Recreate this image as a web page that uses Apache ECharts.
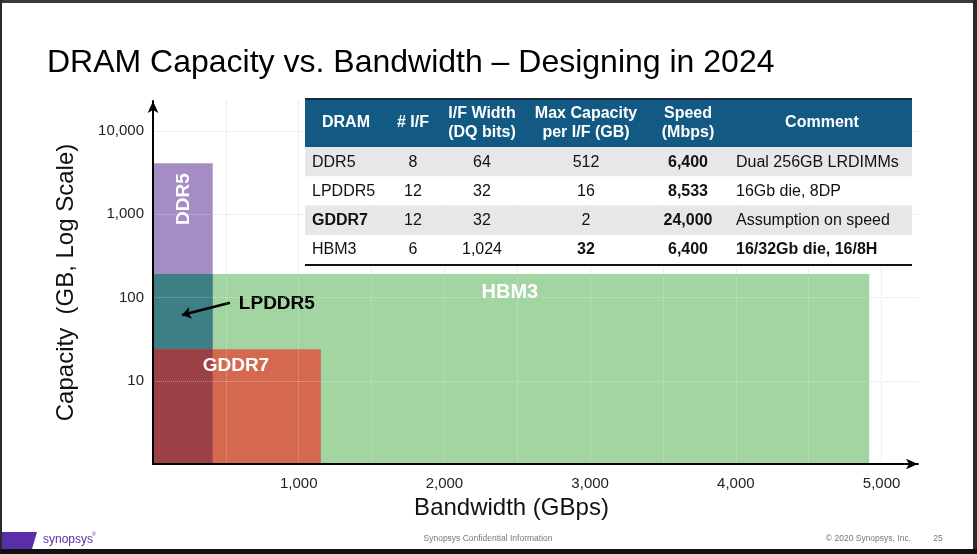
<!DOCTYPE html>
<html><head><meta charset="utf-8">
<script src="https://cdn.jsdelivr.net/npm/echarts@6/dist/echarts.min.js"></script>
<style>html,body{margin:0;padding:0;background:#fff}#c{width:977px;height:554px}</style>
</head><body><div id="c"></div>
<script>
// ---- data ----
const dramNames = ['DDR5', 'LPDDR5', 'GDDR7', 'HBM3'];
const bandwidthGBps = [409.6, 409.6, 1152, 4915.2];
const capacityGB = [4096, 192, 24, 192];
const xTickLabels = [1000, 2000, 3000, 4000, 5000];
const yTickLabels = [10, 100, 1000, 10000];

const tableHeader = ['DRAM', '# I/F', 'I/F Width\n(DQ bits)', 'Max Capacity\nper I/F (GB)', 'Speed\n(Mbps)', 'Comment'];
const numIF = ['8', '12', '12', '6'];
const ifWidthBits = ['64', '32', '32', '1,024'];
const maxCapPerIF = ['512', '16', '2', '32'];
const speedMbps = ['6,400', '8,533', '24,000', '6,400'];
const comments = ['Dual 256GB LRDIMMs', '16Gb die, 8DP', 'Assumption on speed', '16/32Gb die, 16/8H'];
// bold cells [row, col]
const boldCells = [[0,4],[1,4],[2,0],[2,4],[3,3],[3,4],[3,5]];

// annotation label anchors in data space
const labelText = ['DDR5', 'LPDDR5', 'GDDR7', 'HBM3'];
const labelX = [212, 850, 569, 2449];
const labelY = [1525, 83.5, 15, 116];
const arrowFrom = [528, 86.6];
const arrowTo = [199, 61.6];

// ---- styles ----
const FONT = '"Liberation Sans", Arial, Helvetica, sans-serif';
const colorOf = { DDR5: '#a58cc4', LPDDR5: '#3e7f86', GDDR7: '#d5694f', HBM3: '#a2d5a2' };
const overlapColor = '#9b4047';
const drawOrder = ['HBM3', 'DDR5', 'LPDDR5', 'GDDR7'];

const rectData = drawOrder.map(n => {
  const i = dramNames.indexOf(n);
  return { name: n, value: [0, bandwidthGBps[i], 1, capacityGB[i]], fill: colorOf[n] };
});
{
  const iL = dramNames.indexOf('LPDDR5'), iG = dramNames.indexOf('GDDR7');
  rectData.push({ name: 'LPDDR5 ∩ GDDR7',
    value: [0, Math.min(bandwidthGBps[iL], bandwidthGBps[iG]), 1, Math.min(capacityGB[iL], capacityGB[iG])],
    fill: overlapColor });
}

const labelStyles = [
  { rotate: 90, color: '#fff', fontSize: 19 },
  { rotate: 0, color: '#000', fontSize: 19 },
  { rotate: 0, color: '#fff', fontSize: 19 },
  { rotate: 0, color: '#fff', fontSize: 20 }
];
const labelData = labelText.map((t, i) => ({
  value: [labelX[i], labelY[i]],
  label: Object.assign({ show: true, position: 'inside', formatter: t, fontWeight: 'bold', fontFamily: FONT,
    textBorderWidth: 0, textBorderColor: 'transparent', textShadowBlur: 0 }, labelStyles[i])
}));

// ---- table graphics ----
const tbl = { left: 305, right: 912, top: 99, headBottom: 147, rowBounds: [147, 176.5, 205.5, 235, 264] };
const colCenters = [346, 413, 482, 586, 688, 822];
const colLeft = { 0: 312, 5: 736 };
const tableRows = dramNames.map((n, r) => [n, numIF[r], ifWidthBits[r], maxCapPerIF[r], speedMbps[r], comments[r]]);
const isBold = (r, c) => boldCells.some(b => b[0] === r && b[1] === c);

const g = [];
g.push({ type: 'rect', z: 100, shape: { x: tbl.left, y: tbl.top, width: tbl.right - tbl.left, height: tbl.headBottom - tbl.top }, style: { fill: '#125a84' } });
g.push({ type: 'rect', z: 101, shape: { x: tbl.left, y: tbl.top - 1, width: tbl.right - tbl.left, height: 2 }, style: { fill: '#1c2b3b' } });
tableHeader.forEach((h, c) => {
  g.push({ type: 'text', z: 102, x: colCenters[c], y: (tbl.top + tbl.headBottom) / 2,
    style: { text: h, fill: '#fff', font: 'bold 16px ' + FONT, align: 'center', verticalAlign: 'middle', lineHeight: 19 } });
});
tableRows.forEach((row, r) => {
  const y0 = tbl.rowBounds[r], y1 = tbl.rowBounds[r + 1];
  g.push({ type: 'rect', z: 100, shape: { x: tbl.left, y: y0, width: tbl.right - tbl.left, height: y1 - y0 },
    style: { fill: r % 2 === 0 ? '#e7e7e9' : '#ffffff' } });
  row.forEach((cell, c) => {
    const left = colLeft[c] !== undefined;
    g.push({ type: 'text', z: 102, x: left ? colLeft[c] : colCenters[c], y: (y0 + y1) / 2 + 0.5,
      style: { text: cell, fill: '#111', font: (isBold(r, c) ? 'bold ' : '') + '16px ' + FONT,
        align: left ? 'left' : 'center', verticalAlign: 'middle' } });
  });
});
g.push({ type: 'rect', z: 101, shape: { x: tbl.left, y: tbl.rowBounds[4], width: tbl.right - tbl.left, height: 2 }, style: { fill: '#111' } });

// title
g.push({ type: 'text', z: 50, x: 47, y: 63, style: { text: 'DRAM Capacity vs. Bandwidth – Designing in 2024', fill: '#000', font: '32px ' + FONT, verticalAlign: 'middle' } });
// footer
g.push({ type: 'polygon', z: 50, shape: { points: [[2, 532], [37, 532], [32, 549], [2, 549]] }, style: { fill: '#5a2ea6' } });
g.push({ type: 'text', z: 50, x: 43, y: 540, style: { text: 'synopsys', fill: '#5a2ea6', font: '12px ' + FONT, verticalAlign: 'middle' } });
g.push({ type: 'text', z: 50, x: 92, y: 535, style: { text: '®', fill: '#5a2ea6', font: '5px ' + FONT, verticalAlign: 'middle' } });
g.push({ type: 'text', z: 50, x: 488, y: 539, style: { text: 'Synopsys Confidential Information', fill: '#777', font: '8.5px ' + FONT, align: 'center', verticalAlign: 'middle' } });
g.push({ type: 'text', z: 50, x: 911, y: 539, style: { text: '© 2020 Synopsys, Inc.', fill: '#777', font: '8.5px ' + FONT, align: 'right', verticalAlign: 'middle' } });
g.push({ type: 'text', z: 50, x: 938, y: 539, style: { text: '25', fill: '#777', font: '8.5px ' + FONT, align: 'center', verticalAlign: 'middle' } });
// frame
g.push({ type: 'rect', z: 200, shape: { x: 0, y: 0, width: 977, height: 3 }, style: { fill: '#3a3a3a' } });
g.push({ type: 'rect', z: 200, shape: { x: 0, y: 0, width: 2, height: 554 }, style: { fill: '#2a2a2a' } });
g.push({ type: 'rect', z: 200, shape: { x: 973, y: 0, width: 4, height: 554 }, style: { fill: '#2a2a2a' } });
g.push({ type: 'rect', z: 200, shape: { x: 0, y: 549, width: 977, height: 5 }, style: { fill: '#111' } });

const near = (v, list) => list.find(t => Math.abs(v - t) / t < 1e-6);

const X_MIN = 0, X_MAX = 5250, X_STEP = 500;
const Y_MIN = 1, Y_MAX = 23000;
const arrowLine = { show: true, symbol: ['none', 'arrow'], symbolSize: [8, 12], lineStyle: { color: '#000', width: 2 } };

const chart = echarts.init(document.getElementById('c'), null, { renderer: 'canvas' });
chart.setOption({
  backgroundColor: '#fff',
  animation: false,
  textStyle: { fontFamily: FONT },
  grid: { left: 153, top: 101, width: 765, bottom: 90, containLabel: false },
  xAxis: [{
    type: 'value', min: X_MIN, max: X_MAX, interval: X_STEP, z: 0,
    name: 'Bandwidth (GBps)', nameLocation: 'middle', nameGap: 31,
    nameTextStyle: { fontSize: 24, color: '#111', fontFamily: FONT, padding: [0, 48, 0, 0] },
    axisLine: { show: false },
    axisTick: { show: false },
    axisLabel: { margin: 12, fontSize: 15, color: '#222', fontFamily: FONT,
      formatter: v => xTickLabels.includes(v) ? v.toLocaleString('en-US') : '' },
    splitLine: { show: true, showMinLine: false, showMaxLine: false, lineStyle: { color: '#d0d0d0', type: 'dotted', width: 1 } }
  }, {
    type: 'value', min: X_MIN, max: X_MAX, interval: X_STEP, z: 10, position: 'bottom',
    axisLine: arrowLine, axisTick: { show: false }, axisLabel: { show: false },
    splitLine: { show: true, showMinLine: false, showMaxLine: false, lineStyle: { color: 'rgba(255,255,255,0.35)', type: 'dotted', width: 1 } }
  }],
  yAxis: [{
    type: 'log', logBase: 10, min: Y_MIN, max: Y_MAX, z: 0,
    name: 'Capacity  (GB, Log Scale)', nameLocation: 'middle', nameGap: 75, nameRotate: 90,
    nameTextStyle: { fontSize: 24, color: '#111', fontFamily: FONT },
    axisLine: { show: false },
    axisTick: { show: false },
    axisLabel: { margin: 9, fontSize: 15, color: '#222', fontFamily: FONT,
      formatter: v => { const t = near(v, yTickLabels); return t ? t.toLocaleString('en-US') : ''; } },
    splitLine: { show: true, showMinLine: false, showMaxLine: false, lineStyle: { color: '#d0d0d0', type: 'dotted', width: 1 } }
  }, {
    type: 'log', logBase: 10, min: Y_MIN, max: Y_MAX, z: 10, position: 'left',
    axisLine: arrowLine, axisTick: { show: false }, axisLabel: { show: false },
    splitLine: { show: true, showMinLine: false, showMaxLine: false, lineStyle: { color: 'rgba(255,255,255,0.35)', type: 'dotted', width: 1 } }
  }],
  series: [
    {
      type: 'custom', name: 'regions', z: 2, xAxisIndex: 0, yAxisIndex: 0,
      encode: { x: [0, 1], y: [2, 3] },
      data: rectData.map(d => ({ name: d.name, value: d.value })),
      renderItem: (params, api) => {
        const p0 = api.coord([api.value(0), api.value(2)]);
        const p1 = api.coord([api.value(1), api.value(3)]);
        return { type: 'rect', shape: { x: p0[0], y: p1[1], width: p1[0] - p0[0], height: p0[1] - p1[1] },
          style: { fill: rectData[params.dataIndex].fill } };
      }
    },
    {
      type: 'lines', coordinateSystem: 'cartesian2d', z: 4, xAxisIndex: 0, yAxisIndex: 0,
      symbol: ['none', 'arrow'], symbolSize: 9,
      lineStyle: { color: '#000', width: 2.5, opacity: 1 },
      data: [{ coords: [arrowFrom, arrowTo] }]
    },
    {
      type: 'scatter', z: 5, symbolSize: 0, silent: true, xAxisIndex: 0, yAxisIndex: 0,
      itemStyle: { opacity: 1 },
      data: labelData
    }
  ],
  graphic: g
});
</script>
</body></html>
